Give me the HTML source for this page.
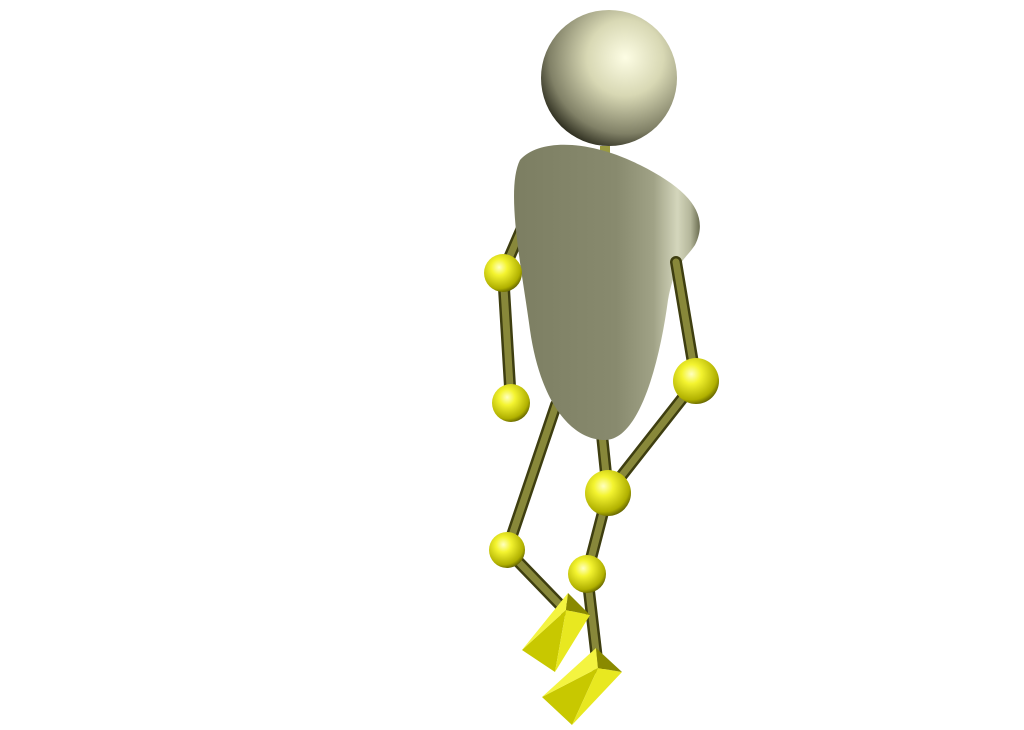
<!DOCTYPE html>
<html><head><meta charset="utf-8"><style>
html,body{margin:0;padding:0;background:#fff;width:1024px;height:730px;overflow:hidden}
</style></head><body>
<svg width="1024" height="730" viewBox="0 0 1024 730">
<defs>
<radialGradient id="head" cx="0.62" cy="0.35" r="0.7">
<stop offset="0" stop-color="#fdfde4"/><stop offset="0.4" stop-color="#d8d8b4"/><stop offset="0.8" stop-color="#808066"/><stop offset="1" stop-color="#2a2a1c"/></radialGradient>
<radialGradient id="ball" cx="0.4" cy="0.35" r="0.7">
<stop offset="0" stop-color="#ffffc0"/><stop offset="0.3" stop-color="#f4f430"/><stop offset="0.8" stop-color="#b0b000"/><stop offset="1" stop-color="#555500"/></radialGradient>
<linearGradient id="torso" x1="0" y1="0" x2="1" y2="0">
<stop offset="0" stop-color="#7c7e62"/><stop offset="0.55" stop-color="#888a6e"/><stop offset="0.75" stop-color="#a0a286"/><stop offset="0.88" stop-color="#d4d6bc"/><stop offset="0.95" stop-color="#b4b69a"/><stop offset="1" stop-color="#6a6c50"/></linearGradient>
<linearGradient id="rod" x1="0" y1="0" x2="1" y2="0">
<stop offset="0" stop-color="#4a4a10"/><stop offset="0.5" stop-color="#9a9a40"/><stop offset="1" stop-color="#4a4a10"/></linearGradient>
</defs>
<g stroke-linecap="round" fill="none">
<polyline points="556,405 507,550 565,610" stroke="#3e3e10" stroke-width="12"/>
<polyline points="556,405 507,550 565,610" stroke="#88883a" stroke-width="7"/>
<polyline points="602,435 608,493 587,574 598,668" stroke="#3e3e10" stroke-width="12"/>
<polyline points="602,435 608,493 587,574 598,668" stroke="#88883a" stroke-width="7"/>
</g>
<g>
<polygon points="522,650 555,672 566,610" fill="#c8c800"/>
<polygon points="555,672 590,615 566,610" fill="#e8e820"/>
<polygon points="522,650 566,610 568,593" fill="#f4f440"/>
<polygon points="568,593 590,615 566,610" fill="#8a8a00"/>
</g>
<g>
<polygon points="542,697 572,725 598,668" fill="#c8c800"/>
<polygon points="572,725 622,672 598,668" fill="#e8e820"/>
<polygon points="542,697 598,668 596,648" fill="#f4f440"/>
<polygon points="596,648 622,672 598,668" fill="#8a8a00"/>
</g>
<g>
<polyline points="522,228 503,272 511,403" stroke="#3e3e10" stroke-width="12" fill="none" stroke-linecap="round"/>
<polyline points="522,228 503,272 511,403" stroke="#88883a" stroke-width="7" fill="none" stroke-linecap="round"/>
</g>
<rect x="600" y="146" width="10" height="12" fill="#9a9a40"/>
<path d="M520,160 C540,138 590,140 640,165 C690,190 710,215 695,245 C685,260 675,262 668,300 C660,360 640,440 605,440 C570,440 540,400 530,330 C522,270 505,190 520,160 Z" fill="url(#torso)"/>
<circle cx="609" cy="78" r="68" fill="url(#head)"/>
<g>
<polyline points="676,262 696,381 608,493" stroke="#3e3e10" stroke-width="12" fill="none" stroke-linecap="round"/>
<polyline points="676,262 696,381 608,493" stroke="#88883a" stroke-width="7" fill="none" stroke-linecap="round"/>
</g>
<g>
<circle cx="503" cy="273" r="19" fill="url(#ball)"/>
<circle cx="511" cy="403" r="19" fill="url(#ball)"/>
<circle cx="696" cy="381" r="23" fill="url(#ball)"/>
<circle cx="608" cy="493" r="23" fill="url(#ball)"/>
<circle cx="507" cy="550" r="18" fill="url(#ball)"/>
<circle cx="587" cy="574" r="19" fill="url(#ball)"/>
</g>
</svg>
</body></html>
